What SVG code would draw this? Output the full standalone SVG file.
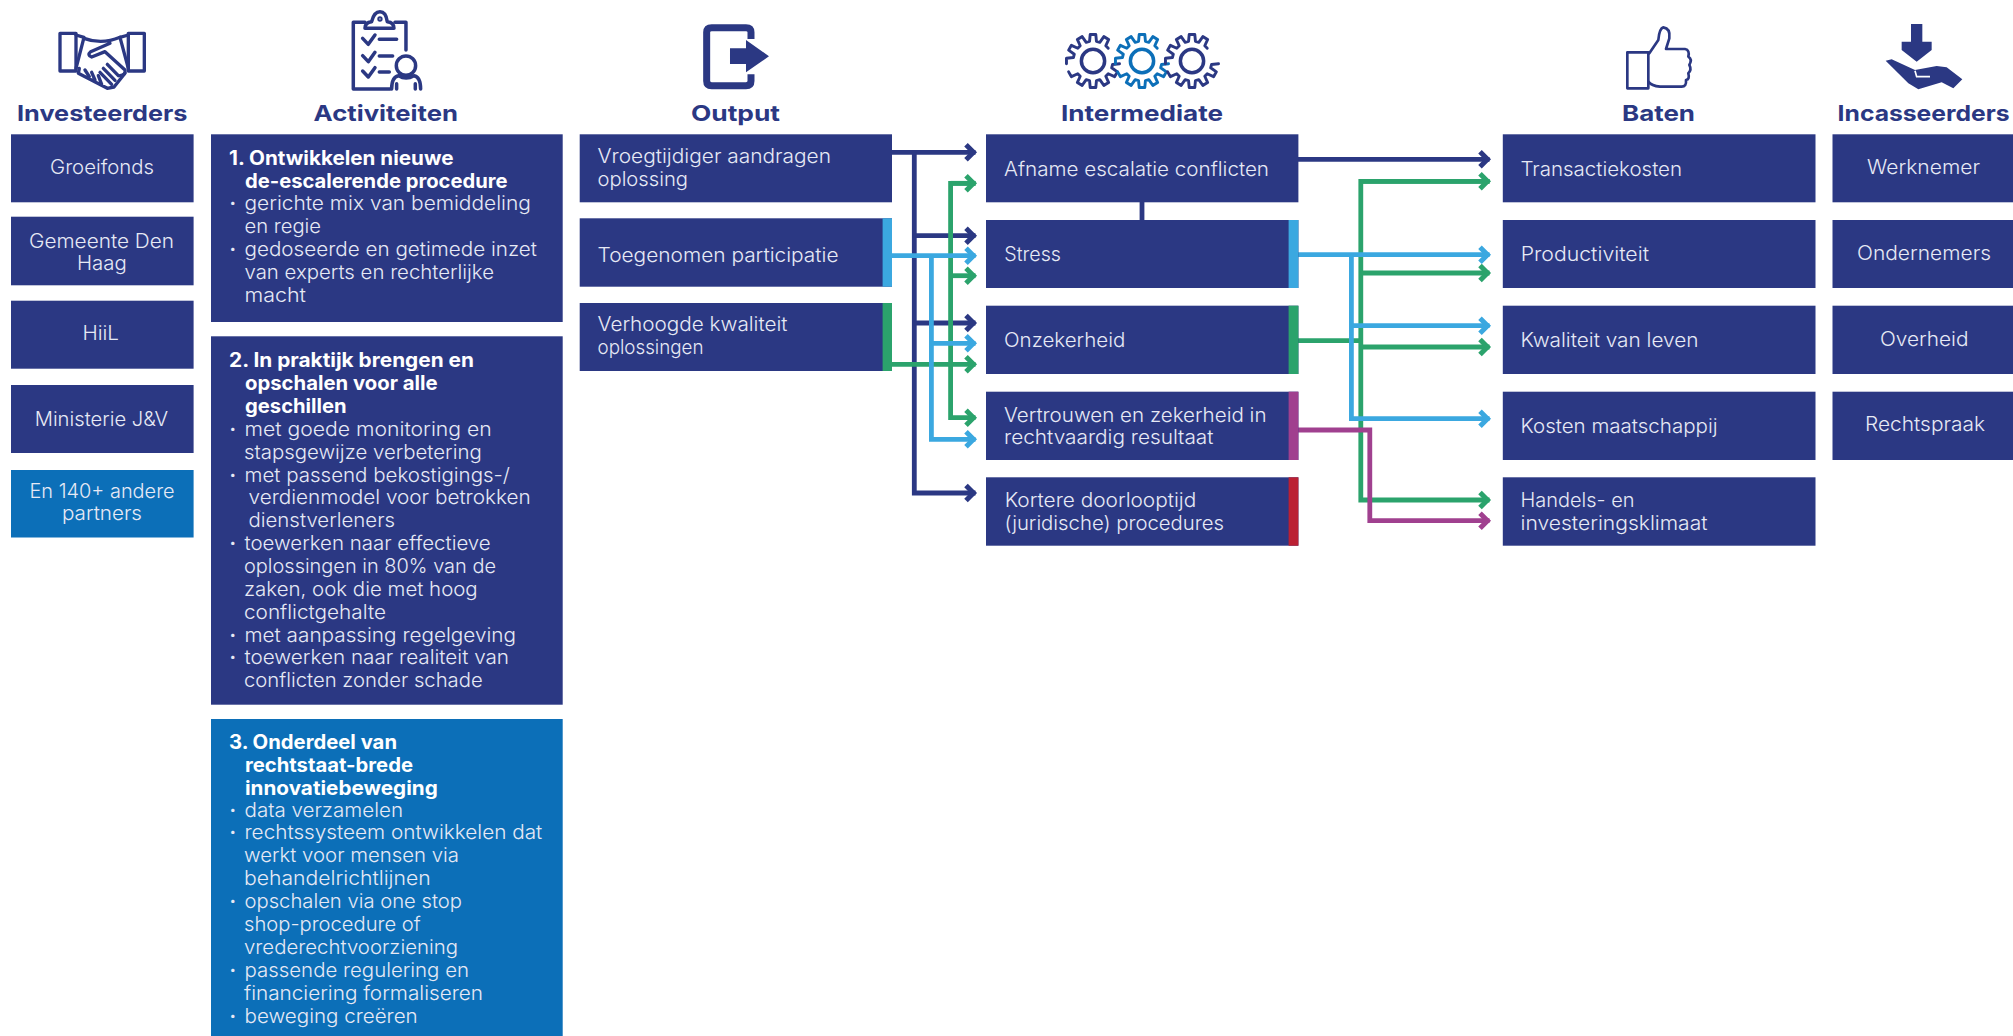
<svg xmlns="http://www.w3.org/2000/svg" xmlns:xlink="http://www.w3.org/1999/xlink" width="2013" height="1036" viewBox="0 0 2013 1036">
<style>
text{font-family:"Inter","Noto Sans","Liberation Sans",sans-serif}
.h{font-size:22px;font-weight:700;fill:#2b3883}
.t{font-size:19.5px;font-weight:300;fill:#e6e9f5}
.b{font-size:19.5px;font-weight:700;fill:#fff}
.d{font-size:19.5px;font-weight:700;fill:#e6e9f5}
.n{fill:#2b3883}.c{fill:#0c6fb8}
.ln{fill:none;stroke-width:4.8}
.nv{stroke:#2b3883}.lb{stroke:#3ba8e0}.gr{stroke:#2ba36c}.pu{stroke:#a0408f}
.ic{fill:none;stroke:#2b3883;stroke-linecap:round;stroke-linejoin:round}
</style>
<defs>
<marker id="mn" markerUnits="userSpaceOnUse" markerWidth="20" markerHeight="26" viewBox="-15 -13 20 26" refX="0" refY="0" orient="auto"><path d="M-9.5 -7.5L-2 0L-9.5 7.5" fill="none" stroke="#2b3883" stroke-width="5"/></marker>
<marker id="ml" markerUnits="userSpaceOnUse" markerWidth="20" markerHeight="26" viewBox="-15 -13 20 26" refX="0" refY="0" orient="auto"><path d="M-9.5 -7.5L-2 0L-9.5 7.5" fill="none" stroke="#3ba8e0" stroke-width="5"/></marker>
<marker id="mg" markerUnits="userSpaceOnUse" markerWidth="20" markerHeight="26" viewBox="-15 -13 20 26" refX="0" refY="0" orient="auto"><path d="M-9.5 -7.5L-2 0L-9.5 7.5" fill="none" stroke="#2ba36c" stroke-width="5"/></marker>
<marker id="mp" markerUnits="userSpaceOnUse" markerWidth="20" markerHeight="26" viewBox="-15 -13 20 26" refX="0" refY="0" orient="auto"><path d="M-9.5 -7.5L-2 0L-9.5 7.5" fill="none" stroke="#a0408f" stroke-width="5"/></marker>
<path id="gearA" d="M27.35 2.87L20.19 3.56L19.26 7.01L25.12 11.19L22.25 16.16L15.7 13.18L13.18 15.7L16.16 22.25L11.19 25.12L7.01 19.26L3.56 20.19L2.87 27.35L-2.87 27.35L-3.56 20.19L-7.01 19.26L-11.19 25.12L-16.16 22.25L-13.18 15.7L-15.7 13.18L-22.25 16.16L-25.12 11.19"/>
<path id="gearB" d="M-27.35 2.87L-27.35 -2.87L-20.19 -3.56L-19.26 -7.01L-25.12 -11.19L-22.25 -16.16L-15.7 -13.18L-13.18 -15.7L-16.16 -22.25L-11.19 -25.12L-7.01 -19.26L-3.56 -20.19L-2.87 -27.35L2.87 -27.35L3.56 -20.19L7.01 -19.26L11.19 -25.12L16.16 -22.25L13.18 -15.7L15.7 -13.18"/>
</defs>
<rect width="2013" height="1036" fill="#fff"/>

<g id="icons">
<g id="icon-handshake" class="ic" transform="translate(50 5) scale(.3333)" stroke-width="10">
<path d="M30 85H78V198H30ZM235 85H283V198H235Z"/>
<path d="M78 90L102 97L78 190M235 90L210 97L235 190"/>
<path d="M102 100Q155 120 210 97M180 115L122 140Q110 150 125 156L165 140L225 195Q228 210 210 212"/>
<path d="M172 178L205 212M160 190L195 226M150 202L185 238"/>
<path d="M88 190L85 205L172 250L192 246L225 205M105 195L118 215M125 202L135 225M145 212L155 238"/>
</g>
<g id="icon-clipboard" class="ic" transform="translate(50 5) scale(.3333)" stroke-width="10.5">
<path d="M945 52H910V252H1020M1035 52H1068V135"/>
<path d="M945 70Q945 52 965 50Q972 20 990 20Q1008 20 1012 50Q1032 52 1032 70Z"/>
<circle cx="990" cy="42" r="5" stroke-width="6"/>
<path d="M938 100L955 118L975 90M988 103H1040M938 152L955 170L975 142M988 153H1028M938 198L955 216L975 188M988 201H1018"/>
<circle cx="1068" cy="182" r="29"/>
<path d="M1025 252Q1025 216 1046 212Q1068 226 1092 212Q1112 216 1112 252M1040 252V236M1096 252V236"/>
</g>
<g id="icon-output" transform="translate(690 15) scale(.3333)">
<path d="M183 72V52Q183 38 168 38H65Q50 38 50 52V198Q50 212 65 212H168Q183 212 183 198V178" fill="none" stroke="#2b3883" stroke-width="21"/>
<path class="n" d="M120 100H168V75L237 124L168 172V147H120Z"/>
</g>
<g id="icon-gears" class="ic" stroke-width="3">
<g transform="translate(1093 61) scale(.97)"><use xlink:href="#gearA" href="#gearA"/><use xlink:href="#gearB" href="#gearB"/><circle r="12" stroke-width="3.6"/></g>
<g transform="translate(1142 61) scale(.97)" style="stroke:#0c6fb8"><use xlink:href="#gearA" href="#gearA"/><use xlink:href="#gearB" href="#gearB"/><circle r="12" stroke-width="3.6"/></g>
<g transform="translate(1192 61) scale(.97)"><use xlink:href="#gearA" href="#gearA"/><use xlink:href="#gearB" href="#gearB"/><circle r="12" stroke-width="3.6"/></g>
</g>
<g id="icon-thumb" class="ic" transform="translate(1610 20) scale(.3333)" stroke-width="8">
<path d="M52 97H115V205H52Z"/>
<path d="M118 100L145 60Q148 25 160 22Q182 25 178 55L168 87H225Q240 90 235 110Q248 118 238 135Q246 150 235 160Q240 178 228 180Q230 200 215 200H150Q125 198 115 185"/>
</g>
<g id="icon-receive" transform="translate(1875 20) scale(.3333)">
<path class="n" d="M108 12H142V65H170V90L125 125L80 90V65H108Z"/>
<path class="n" d="M32 122L50 118L120 150L185 138L215 142L262 178L235 205L200 187L130 208L100 190Z"/>
<path d="M120 152L125 170H165" fill="none" stroke="#fff" stroke-width="5"/>
</g>
</g>

<g id="connectors">
<g id="conn-navy" class="ln nv">
<path d="M892 152.3H975.5" marker-end="url(#mn)"/>
<path d="M914.3 152.3V493H975.5" marker-end="url(#mn)"/>
<path d="M914.3 235.7H975.5" marker-end="url(#mn)"/>
<path d="M914.3 323H975.5" marker-end="url(#mn)"/>
<path d="M1142 202V220"/>
<path d="M1298 159.3H1489.5" marker-end="url(#mn)"/>
</g>
<g id="conn-green" class="ln gr">
<path d="M975.5 183.3H950.6V417.7H975.5" marker-end="url(#mg)"/>
<path d="M950.6 183.3H975.5" marker-end="url(#mg)"/>
<path d="M950.6 275.7H975.5" marker-end="url(#mg)"/>
<path d="M892 364.3H975.5" marker-end="url(#mg)"/>
<path d="M1298 340.7H1360.8"/>
<path d="M1489.5 181.3H1360.8V500H1489.5" marker-end="url(#mg)"/>
<path d="M1360.8 181.3H1489.5" marker-end="url(#mg)"/>
<path d="M1360.8 273H1489.5" marker-end="url(#mg)"/>
<path d="M1360.8 347H1489.5" marker-end="url(#mg)"/>
</g>
<g id="conn-lightblue" class="ln lb">
<path d="M892 255.7H975.5" marker-end="url(#ml)"/>
<path d="M931.4 255.7V439.3H975.5" marker-end="url(#ml)"/>
<path d="M931.4 343.3H975.5" marker-end="url(#ml)"/>
<path d="M1298 254.7H1489.5" marker-end="url(#ml)"/>
<path d="M1351.4 254.7V418.7H1489.5" marker-end="url(#ml)"/>
<path d="M1351.4 325.7H1489.5" marker-end="url(#ml)"/>
</g>
<g id="conn-purple" class="ln pu">
<path d="M1298 430H1369.8V520.7H1489.5" marker-end="url(#mp)"/>
</g>
</g>

<g id="investeerders">
<text class="h" x="17" y="120.7" textLength="170.5" lengthAdjust="spacingAndGlyphs">Investeerders</text>
<g id="inv-groeifonds"><rect class="n" x="11" y="134.3" width="182.6" height="68"/><text class="t" x="50" y="174" textLength="104" lengthAdjust="spacingAndGlyphs">Groeifonds</text></g>
<g id="inv-denhaag"><rect class="n" x="11" y="216.7" width="182.6" height="68.6"/><text class="t" x="29" y="247.5" textLength="145" lengthAdjust="spacingAndGlyphs">Gemeente Den</text><text class="t" x="77" y="270" textLength="49.7" lengthAdjust="spacingAndGlyphs">Haag</text></g>
<g id="inv-hiil"><rect class="n" x="11" y="300.7" width="182.6" height="68"/><text class="t" x="82.5" y="340" textLength="36.5" lengthAdjust="spacingAndGlyphs">HiiL</text></g>
<g id="inv-ministerie"><rect class="n" x="11" y="385" width="182.6" height="68"/><text class="t" x="34.7" y="426" textLength="133.5" lengthAdjust="spacingAndGlyphs">Ministerie J&amp;V</text></g>
<g id="inv-andere"><rect class="c" x="11" y="470" width="182.6" height="67.5"/><text class="t" x="29.5" y="497.5" textLength="145" lengthAdjust="spacingAndGlyphs">En 140+ andere</text><text class="t" x="62" y="520" textLength="80" lengthAdjust="spacingAndGlyphs">partners</text></g>
</g>

<g id="activiteiten">
<text class="h" x="313.6" y="120.7" textLength="144.4" lengthAdjust="spacingAndGlyphs">Activiteiten</text>
<g id="act-1"><rect class="n" x="211" y="134.3" width="351.7" height="187.7"/>
<text class="b" x="229" y="164.5" textLength="224.5" lengthAdjust="spacingAndGlyphs">1. Ontwikkelen nieuwe</text>
<text class="b" x="245" y="187.5" textLength="262.5" lengthAdjust="spacingAndGlyphs">de-escalerende procedure</text>
<text class="d" x="229.5" y="210">·</text><text class="t" x="244.5" y="210" textLength="286.3" lengthAdjust="spacingAndGlyphs">gerichte mix van bemiddeling</text>
<text class="t" x="244.5" y="233" textLength="76.5" lengthAdjust="spacingAndGlyphs">en regie</text>
<text class="d" x="229.5" y="256">·</text><text class="t" x="244.5" y="256" textLength="292.5" lengthAdjust="spacingAndGlyphs">gedoseerde en getimede inzet</text>
<text class="t" x="244.5" y="279" textLength="249.5" lengthAdjust="spacingAndGlyphs">van experts en rechterlijke</text>
<text class="t" x="244.5" y="302" textLength="61.5" lengthAdjust="spacingAndGlyphs">macht</text>
</g>
<g id="act-2"><rect class="n" x="211" y="336.3" width="351.7" height="368.4"/>
<text class="b" x="229" y="366.7" textLength="245" lengthAdjust="spacingAndGlyphs">2. In praktijk brengen en</text>
<text class="b" x="245" y="389.5" textLength="192.7" lengthAdjust="spacingAndGlyphs">opschalen voor alle</text>
<text class="b" x="245" y="412.5" textLength="101.7" lengthAdjust="spacingAndGlyphs">geschillen</text>
<text class="d" x="229.5" y="436">·</text><text class="t" x="244.5" y="436" textLength="247.2" lengthAdjust="spacingAndGlyphs">met goede monitoring en</text>
<text class="t" x="244" y="458.5" textLength="237.7" lengthAdjust="spacingAndGlyphs">stapsgewijze verbetering</text>
<text class="d" x="229.5" y="481.7">·</text><text class="t" x="244.5" y="481.7" textLength="265.5" lengthAdjust="spacingAndGlyphs">met passend bekostigings-/</text>
<text class="t" x="248.5" y="504" textLength="282.2" lengthAdjust="spacingAndGlyphs">verdienmodel voor betrokken</text>
<text class="t" x="248.5" y="527" textLength="146.5" lengthAdjust="spacingAndGlyphs">dienstverleners</text>
<text class="d" x="229.5" y="550">·</text><text class="t" x="244.5" y="550" textLength="246.2" lengthAdjust="spacingAndGlyphs">toewerken naar effectieve</text>
<text class="t" x="244" y="572.7" textLength="252" lengthAdjust="spacingAndGlyphs">oplossingen in 80% van de</text>
<text class="t" x="244" y="595.7" textLength="233.7" lengthAdjust="spacingAndGlyphs">zaken, ook die met hoog</text>
<text class="t" x="244" y="618.5" textLength="142" lengthAdjust="spacingAndGlyphs">conflictgehalte</text>
<text class="d" x="229.5" y="641.7">·</text><text class="t" x="244.5" y="641.7" textLength="271.5" lengthAdjust="spacingAndGlyphs">met aanpassing regelgeving</text>
<text class="d" x="229.5" y="664">·</text><text class="t" x="244.5" y="664" textLength="264.5" lengthAdjust="spacingAndGlyphs">toewerken naar realiteit van</text>
<text class="t" x="244" y="686.7" textLength="238.7" lengthAdjust="spacingAndGlyphs">conflicten zonder schade</text>
</g>
<g id="act-3"><rect class="c" x="211" y="719" width="351.7" height="317"/>
<text class="b" x="229" y="748.8" textLength="168" lengthAdjust="spacingAndGlyphs">3. Onderdeel van</text>
<text class="b" x="245" y="771.5" textLength="168" lengthAdjust="spacingAndGlyphs">rechtstaat-brede</text>
<text class="b" x="245" y="794.5" textLength="192.7" lengthAdjust="spacingAndGlyphs">innovatiebeweging</text>
<text class="d" x="229.5" y="816.7">·</text><text class="t" x="244.5" y="816.7" textLength="158.5" lengthAdjust="spacingAndGlyphs">data verzamelen</text>
<text class="d" x="229.5" y="839.3">·</text><text class="t" x="244.5" y="839.3" textLength="297.8" lengthAdjust="spacingAndGlyphs">rechtssysteem ontwikkelen dat</text>
<text class="t" x="244" y="862.3" textLength="215" lengthAdjust="spacingAndGlyphs">werkt voor mensen via</text>
<text class="t" x="244" y="885.3" textLength="186.7" lengthAdjust="spacingAndGlyphs">behandelrichtlijnen</text>
<text class="d" x="229.5" y="908">·</text><text class="t" x="244.5" y="908" textLength="217.5" lengthAdjust="spacingAndGlyphs">opschalen via one stop</text>
<text class="t" x="244" y="931" textLength="176.7" lengthAdjust="spacingAndGlyphs">shop-procedure of</text>
<text class="t" x="244" y="954" textLength="214" lengthAdjust="spacingAndGlyphs">vrederechtvoorziening</text>
<text class="d" x="229.5" y="976.7">·</text><text class="t" x="244.5" y="976.7" textLength="224.5" lengthAdjust="spacingAndGlyphs">passende regulering en</text>
<text class="t" x="244" y="999.7" textLength="239" lengthAdjust="spacingAndGlyphs">financiering formaliseren</text>
<text class="d" x="229.5" y="1022.7">·</text><text class="t" x="244.5" y="1022.7" textLength="173.2" lengthAdjust="spacingAndGlyphs">beweging creëren</text>
</g>
</g>

<g id="output">
<text class="h" x="691" y="120.7" textLength="89" lengthAdjust="spacingAndGlyphs">Output</text>
<g id="out-1"><rect class="n" x="579.7" y="134.3" width="312.3" height="68"/><text class="t" x="597.5" y="162.7" textLength="233.5" lengthAdjust="spacingAndGlyphs">Vroegtijdiger aandragen</text><text class="t" x="597.5" y="185.5" textLength="90.5" lengthAdjust="spacingAndGlyphs">oplossing</text></g>
<g id="out-2"><rect class="n" x="579.7" y="218.3" width="312.3" height="68.4"/><rect x="882.6" y="218.3" width="9.4" height="68.4" fill="#3ba8e0"/><text class="t" x="597.5" y="261.7" textLength="241" lengthAdjust="spacingAndGlyphs">Toegenomen participatie</text></g>
<g id="out-3"><rect class="n" x="579.7" y="303" width="312.3" height="68"/><rect x="882.6" y="303" width="9.4" height="68" fill="#2ba36c"/><text class="t" x="597.5" y="331" textLength="190" lengthAdjust="spacingAndGlyphs">Verhoogde kwaliteit</text><text class="t" x="597.5" y="354" textLength="106" lengthAdjust="spacingAndGlyphs">oplossingen</text></g>
</g>

<g id="intermediate">
<text class="h" x="1061" y="120.7" textLength="162" lengthAdjust="spacingAndGlyphs">Intermediate</text>
<g id="int-1"><rect class="n" x="986" y="134.3" width="312.4" height="68"/><text class="t" x="1004" y="176" textLength="265" lengthAdjust="spacingAndGlyphs">Afname escalatie conflicten</text></g>
<g id="int-2"><rect class="n" x="986" y="220" width="312.4" height="68"/><rect x="1288.6" y="220" width="9.8" height="68" fill="#3ba8e0"/><text class="t" x="1004.3" y="261.3" textLength="56.7" lengthAdjust="spacingAndGlyphs">Stress</text></g>
<g id="int-3"><rect class="n" x="986" y="305.7" width="312.4" height="68.3"/><rect x="1288.6" y="305.7" width="9.8" height="68.3" fill="#2ba36c"/><text class="t" x="1004" y="347" textLength="121.3" lengthAdjust="spacingAndGlyphs">Onzekerheid</text></g>
<g id="int-4"><rect class="n" x="986" y="391.7" width="312.4" height="68.3"/><rect x="1288.6" y="391.7" width="9.8" height="68.3" fill="#a0408f"/><text class="t" x="1004" y="421.7" textLength="262.5" lengthAdjust="spacingAndGlyphs">Vertrouwen en zekerheid in</text><text class="t" x="1004" y="444.3" textLength="209.5" lengthAdjust="spacingAndGlyphs">rechtvaardig resultaat</text></g>
<g id="int-5"><rect class="n" x="986" y="477.3" width="312.4" height="68.4"/><rect x="1288.6" y="477.3" width="9.8" height="68.4" fill="#bb2033"/><text class="t" x="1004.7" y="507.3" textLength="191.6" lengthAdjust="spacingAndGlyphs">Kortere doorlooptijd</text><text class="t" x="1004.5" y="530" textLength="219.5" lengthAdjust="spacingAndGlyphs">(juridische) procedures</text></g>
</g>

<g id="baten">
<text class="h" x="1622" y="120.7" textLength="73" lengthAdjust="spacingAndGlyphs">Baten</text>
<g id="bat-1"><rect class="n" x="1502.8" y="134.3" width="312.7" height="68"/><text class="t" x="1520.5" y="176" textLength="161.5" lengthAdjust="spacingAndGlyphs">Transactiekosten</text></g>
<g id="bat-2"><rect class="n" x="1502.8" y="220" width="312.7" height="68"/><text class="t" x="1520.7" y="261.3" textLength="128.3" lengthAdjust="spacingAndGlyphs">Productiviteit</text></g>
<g id="bat-3"><rect class="n" x="1502.8" y="305.7" width="312.7" height="68.3"/><text class="t" x="1520.5" y="347" textLength="178" lengthAdjust="spacingAndGlyphs">Kwaliteit van leven</text></g>
<g id="bat-4"><rect class="n" x="1502.8" y="391.7" width="312.7" height="68.3"/><text class="t" x="1520.5" y="433" textLength="197" lengthAdjust="spacingAndGlyphs">Kosten maatschappij</text></g>
<g id="bat-5"><rect class="n" x="1502.8" y="477.3" width="312.7" height="68.4"/><text class="t" x="1520.5" y="507.3" textLength="114" lengthAdjust="spacingAndGlyphs">Handels- en</text><text class="t" x="1520.5" y="530" textLength="187" lengthAdjust="spacingAndGlyphs">investeringsklimaat</text></g>
</g>

<g id="incasseerders">
<text class="h" x="1837.6" y="120.7" textLength="172" lengthAdjust="spacingAndGlyphs">Incasseerders</text>
<g id="inc-1"><rect class="n" x="1832.5" y="134.3" width="180.5" height="68"/><text class="t" x="1867" y="173.7" textLength="113" lengthAdjust="spacingAndGlyphs">Werknemer</text></g>
<g id="inc-2"><rect class="n" x="1832.5" y="220" width="180.5" height="68"/><text class="t" x="1857" y="259.7" textLength="134" lengthAdjust="spacingAndGlyphs">Ondernemers</text></g>
<g id="inc-3"><rect class="n" x="1832.5" y="305.7" width="180.5" height="68.3"/><text class="t" x="1880" y="346" textLength="88.5" lengthAdjust="spacingAndGlyphs">Overheid</text></g>
<g id="inc-4"><rect class="n" x="1832.5" y="391.7" width="180.5" height="68.3"/><text class="t" x="1865" y="431" textLength="120" lengthAdjust="spacingAndGlyphs">Rechtspraak</text></g>
</g>
</svg>
